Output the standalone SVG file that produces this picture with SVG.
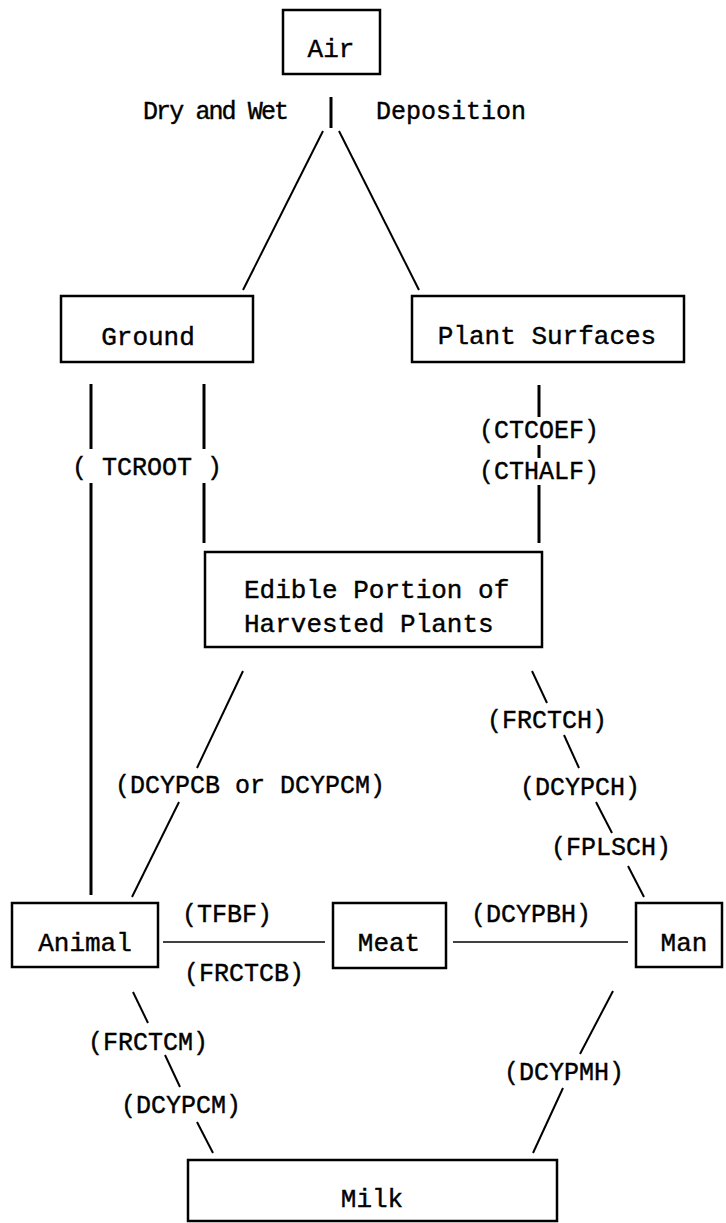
<svg xmlns="http://www.w3.org/2000/svg" width="726" height="1223" viewBox="0 0 726 1223">
<style>
  .box { fill: #fff; stroke: #000; stroke-width: 2.5; }
  .t, .ts, .l { font-family: "Liberation Mono", "DejaVu Sans Mono", monospace; fill: #000; stroke: #000; stroke-width: 0.4; }
  .t { font-size: 26px; text-anchor: middle; }
  .ts { font-size: 26px; text-anchor: start; }
  .l { font-size: 25px; text-anchor: middle; }
  .c { stroke: #000; stroke-width: 2; fill: none; }
  .v { stroke: #000; stroke-width: 3; fill: none; }
  .h { stroke: #000; stroke-width: 1.5; fill: none; }
</style>
<rect width="726" height="1223" fill="#fff"/>
<g id="connectors">
  <line class="v" x1="331" y1="97" x2="331" y2="128"/>
  <line class="c" x1="323" y1="131" x2="243" y2="290"/>
  <line class="c" x1="339" y1="131" x2="419" y2="290"/>
  <line class="v" x1="91" y1="384" x2="91" y2="449"/>
  <line class="v" x1="91" y1="483" x2="91" y2="895"/>
  <line class="v" x1="204" y1="384" x2="204" y2="449"/>
  <line class="v" x1="204" y1="483" x2="204" y2="543"/>
  <line class="v" x1="539" y1="385" x2="539" y2="417"/>
  <line class="v" x1="539" y1="445" x2="539" y2="458"/>
  <line class="v" x1="539" y1="485" x2="539" y2="543"/>
  <line class="c" x1="243" y1="671" x2="197" y2="768"/>
  <line class="c" x1="179" y1="802" x2="132" y2="897"/>
  <line class="c" x1="532" y1="671" x2="547" y2="703"/>
  <line class="c" x1="564" y1="735" x2="579" y2="768"/>
  <line class="c" x1="596" y1="802" x2="612" y2="833"/>
  <line class="c" x1="628" y1="866" x2="644" y2="897"/>
  <line class="h" x1="163" y1="942" x2="325" y2="942"/>
  <line class="h" x1="453" y1="942" x2="628" y2="942"/>
  <line class="c" x1="133" y1="992" x2="148" y2="1023"/>
  <line class="c" x1="165" y1="1055" x2="180" y2="1087"/>
  <line class="c" x1="197" y1="1122" x2="213" y2="1153"/>
  <line class="c" x1="613" y1="991" x2="580" y2="1054"/>
  <line class="c" x1="563" y1="1088" x2="533" y2="1153"/>
  <text class="l" x="216" y="119" textLength="146" lengthAdjust="spacing">Dry and Wet</text>
  <text class="l" x="451" y="119">Deposition</text>
  <text class="l" x="147" y="475">( TCROOT )</text>
  <text class="l" x="539" y="438">(CTCOEF)</text>
  <text class="l" x="539" y="479">(CTHALF)</text>
  <text class="l" x="250" y="793">(DCYPCB or DCYPCM)</text>
  <text class="l" x="547" y="728">(FRCTCH)</text>
  <text class="l" x="580" y="795">(DCYPCH)</text>
  <text class="l" x="611" y="855">(FPLSCH)</text>
  <text class="l" x="227" y="922">(TFBF)</text>
  <text class="l" x="244" y="981">(FRCTCB)</text>
  <text class="l" x="531" y="922">(DCYPBH)</text>
  <text class="l" x="148" y="1050">(FRCTCM)</text>
  <text class="l" x="181" y="1113">(DCYPCM)</text>
  <text class="l" x="564" y="1080">(DCYPMH)</text>
</g>
<g id="air"><rect class="box" x="283" y="10" width="97" height="64"/><text class="t" x="331" y="57">Air</text></g>
<g id="ground"><rect class="box" x="61" y="296" width="192" height="66"/><text class="t" x="148" y="345">Ground</text></g>
<g id="plant-surfaces"><rect class="box" x="412" y="296" width="272" height="66"/><text class="t" x="547" y="344">Plant Surfaces</text></g>
<g id="edible"><rect class="box" x="205" y="552" width="337" height="95"/><text class="ts" x="244" y="598">Edible Portion of</text><text class="ts" x="244" y="632">Harvested Plants</text></g>
<g id="animal"><rect class="box" x="12" y="903" width="146" height="64"/><text class="t" x="85" y="951">Animal</text></g>
<g id="meat"><rect class="box" x="333" y="903" width="113" height="65"/><text class="t" x="389" y="951">Meat</text></g>
<g id="man"><rect class="box" x="636" y="903" width="86" height="64"/><text class="t" x="684" y="951">Man</text></g>
<g id="milk"><rect class="box" x="188" y="1160" width="369" height="61"/><text class="t" x="372" y="1207">Milk</text></g>
</svg>
